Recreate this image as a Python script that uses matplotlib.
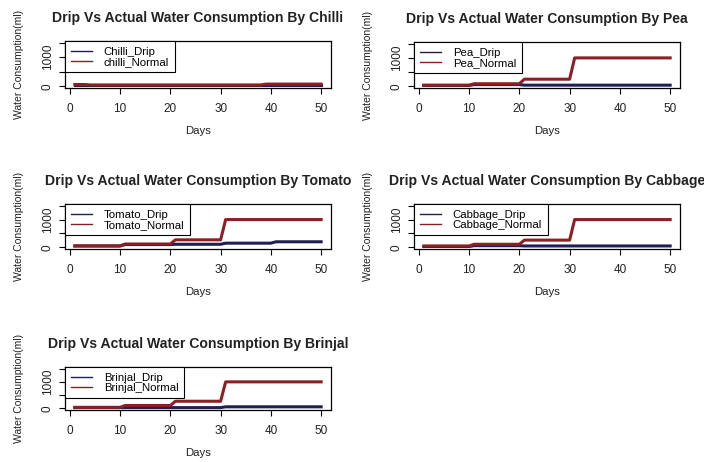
import matplotlib.pyplot as plt
import numpy as np

plt.rcParams['font.family'] = ['Liberation Sans', 'DejaVu Sans']

days = np.arange(1, 51)

# step values per block of days (value, number of days)
chilli_drip = [(40, 50)]
chilli_normal = [(60, 3), (45, 35), (75, 12)]
pea_drip = [(30, 10), (60, 10), (40, 30)]
pea_normal = [(40, 10), (90, 10), (250, 10), (1000, 20)]
tomato_drip = [(50, 10), (100, 10), (110, 10), (150, 10), (200, 10)]
tomato_normal = [(50, 10), (120, 10), (270, 10), (1000, 20)]
cabbage_drip = [(30, 10), (60, 10), (50, 30)]
cabbage_normal = [(50, 10), (110, 10), (260, 10), (1000, 20)]
brinjal_drip = [(30, 30), (60, 20)]
brinjal_normal = [(40, 10), (110, 10), (270, 10), (1000, 20)]

crops = ['Chilli', 'Pea', 'Tomato', 'Cabbage', 'Brinjal']
drip_labels = ['Chilli_Drip', 'Pea_Drip', 'Tomato_Drip', 'Cabbage_Drip', 'Brinjal_Drip']
normal_labels = ['chilli_Normal', 'Pea_Normal', 'Tomato_Normal', 'Cabbage_Normal', 'Brinjal_Normal']
drip_data = [chilli_drip, pea_drip, tomato_drip, cabbage_drip, brinjal_drip]
normal_data = [chilli_normal, pea_normal, tomato_normal, cabbage_normal, brinjal_normal]


def expand(blocks):
    return np.concatenate([np.full(n, v) for v, n in blocks])


W, H = 704, 462
fig = plt.figure(figsize=(W / 100, H / 100), dpi=100)

# axes boxes in pixels: left, top, right, bottom
boxes = [(65, 41, 331, 88), (414, 42, 680, 88),
         (65, 204, 331, 249), (414, 204, 680, 249),
         (65, 367, 331, 410)]

for i, crop in enumerate(crops):
    l, t, r, b = boxes[i]
    ax = fig.add_axes([l / W, 1 - b / H, (r - l) / W, (b - t) / H])
    ax.plot(days, expand(drip_data[i]), color='#1f1f55', lw=2.2, label=drip_labels[i])
    ax.plot(days, expand(normal_data[i]), color='#8b1f24', lw=2.2, label=normal_labels[i])
    ax.set_xlim(-0.96, 51.96)
    ax.set_ylim(-60, 1560)
    ax.set_xticks([0, 10, 20, 30, 40, 50])
    ax.set_yticks([0, 500, 1000, 1500])
    ax.set_yticklabels(['0', '', '1000', ''], rotation=90, va='center')
    ax.tick_params(direction='out', length=4, width=0.8, labelsize=8.5,
                   pad=4, labelcolor='#222222')
    ax.tick_params(axis='x', pad=7)
    for s in ax.spines.values():
        s.set_linewidth(0.9)
    ax.set_title('Drip Vs Actual Water Consumption By ' + crop,
                 fontsize=10.1, fontweight='bold', pad=14, color='#222222')
    ax.set_xlabel('Days', fontsize=8.2, labelpad=8, color='#222222')
    ax.set_ylabel('Water Consumption(ml)', fontsize=7.5, labelpad=13, color='#222222')
    leg = ax.legend(loc='upper left', fontsize=8.2, frameon=True, fancybox=False,
                    borderaxespad=0, handlelength=1.9, borderpad=0.5,
                    labelspacing=0.0, handletextpad=1.0, framealpha=1)
    leg.get_frame().set_edgecolor('black')
    leg.get_frame().set_linewidth(0.8)
    for h in leg.get_lines():
        h.set_linewidth(1.0)

fig.savefig('out.png', dpi=100)
